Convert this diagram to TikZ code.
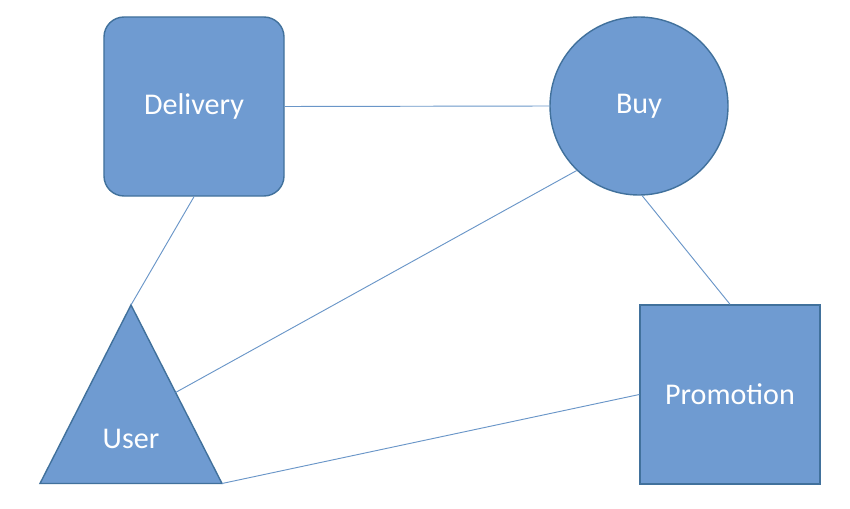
\documentclass[tikz,border=0pt]{standalone}
\usepackage{fontspec}
\setmainfont{Carlito}
\usepackage{tikz}
\usetikzlibrary{calc,positioning}
\definecolor{shapefill}{HTML}{6F9BD1}
\definecolor{shapeline}{HTML}{41719C}
\definecolor{linkblue}{HTML}{6A96C8}
\tikzset{
  blueshape/.style={fill=shapefill,draw=shapeline,line width=1.2pt,text=white,
    font=\fontsize{25.7}{30}\selectfont},
  boxnode/.style={blueshape,rectangle,minimum width=5.4cm,minimum height=5.37cm},
  link/.style={draw=linkblue,line width=.8pt}
}
\begin{document}
\begin{tikzpicture}[x=.03cm,y=-.03cm]
  \useasboundingbox (0,0) rectangle (850,508);
  % shapes
  \node[boxnode,rounded corners=.6cm] (delivery) at (194,106.5) {Delivery};
  \node[blueshape,circle,minimum size=5.34cm] (buy) at (639,106) {Buy};
  \node[boxnode] (promotion) at (730,394.5) {Promotion};
  \coordinate (user-top) at (131,305);
  \coordinate (user-left) at (40,483.5);
  \coordinate (user-right) at (222,483.5);
  \fill[shapefill,draw=shapeline,line width=1.2pt] (user-top)--(user-right)--(user-left)--cycle;
  \node[text=white,font=\fontsize{25.7}{30}\selectfont] (user) at (131,439) {User};
  \coordinate (user-side) at ($(user-top)!.49!(user-right)$);
  % links
  \draw[link] (delivery.east)--(buy.west);
  \draw[link] (delivery.south)--(user-top);
  \draw[link] (buy.226)--(user-side);
  \draw[link] (buy.272)--(promotion.north);
  \draw[link] (promotion.west)--(user-right);
\end{tikzpicture}
\end{document}
